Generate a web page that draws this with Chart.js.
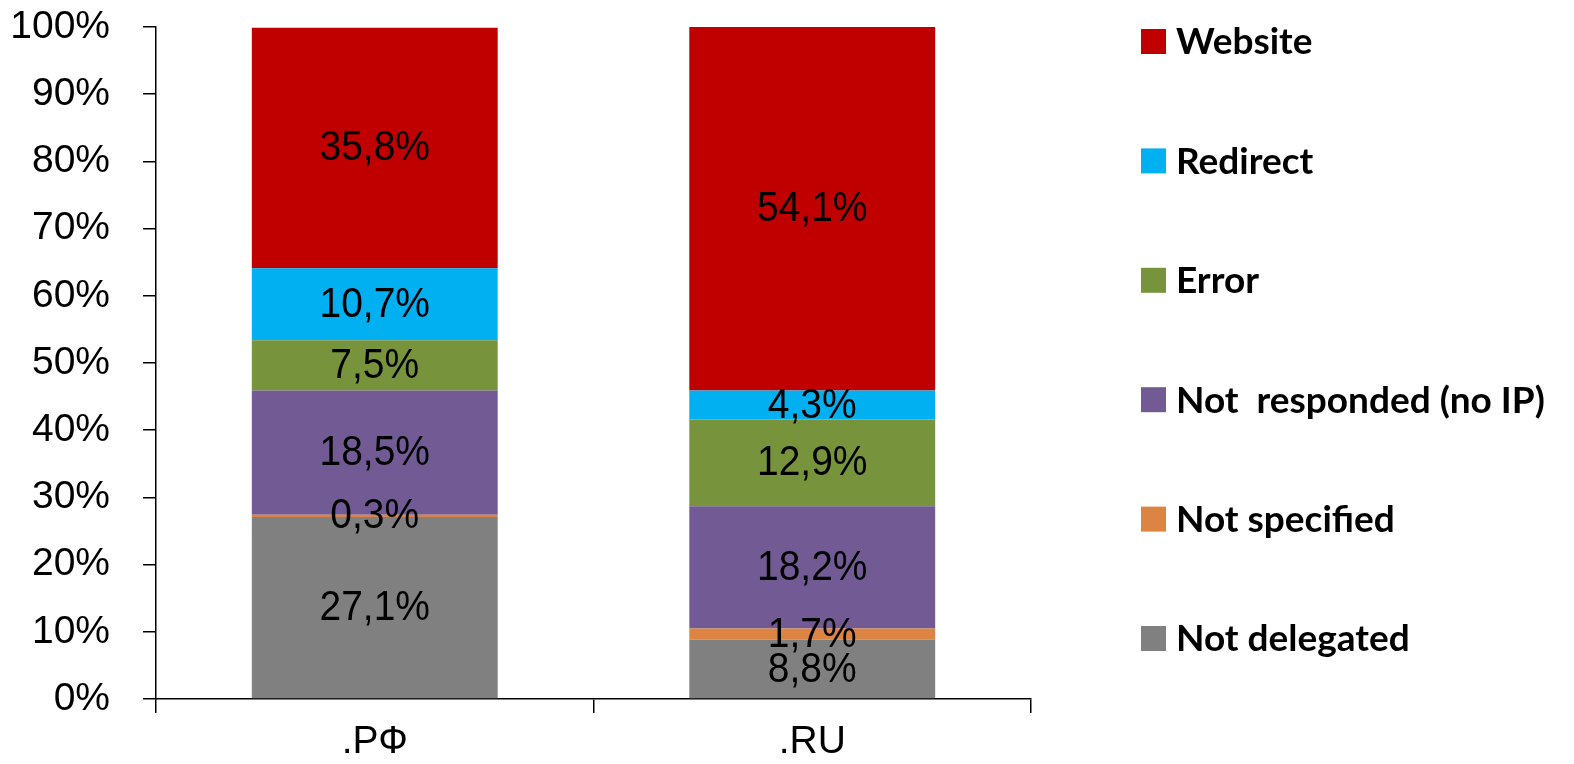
<!DOCTYPE html>
<html><head><meta charset="utf-8">
<script src="https://cdn.jsdelivr.net/npm/chart.js@4.4.0/dist/chart.umd.min.js"></script>
<style>html,body{margin:0;padding:0;background:#fff;overflow:hidden}#wrap{position:relative;width:1574px;height:764px}</style>
</head><body><div id="wrap"><canvas id="c" width="1574" height="764"></canvas></div>
<script>
const categories = ['.РФ', '.RU'];
const notDelegated = [27.1, 8.8];
const notSpecified = [0.3, 1.7];
const notResponded = [18.5, 18.2];
const errorVals = [7.5, 12.9];
const redirect = [10.7, 4.3];
const website = [35.8, 54.1];
const seriesNames = ['Not delegated', 'Not specified', 'Not  responded (no IP)', 'Error', 'Redirect', 'Website'];
const seriesColors = ['#808080', '#DE8443', '#725A94', '#77933C', '#00B0F0', '#C00000'];
const seriesValues = [notDelegated, notSpecified, notResponded, errorVals, redirect, website];
const yTickStep = 10;

const axisFont = '"Liberation Sans", Arial, sans-serif';

const dataLabels = {
  id: 'dataLabels',
  afterDatasetsDraw(chart) {
    const ctx = chart.ctx;
    chart.data.datasets.forEach((ds, i) => {
      const meta = chart.getDatasetMeta(i);
      meta.data.forEach((el, j) => {
        const v = ds.data[j];
        const y = (el.y + el.base) / 2 + 1;
        ctx.save();
        ctx.translate(el.x, y);
        ctx.scale(1, 1.07);
        ctx.font = '39px ' + axisFont;
        ctx.fillStyle = '#000';
        ctx.textAlign = 'center';
        ctx.textBaseline = 'middle';
        ctx.fillText(v.toFixed(1).replace('.', ',') + '%', 0, 0);
        ctx.restore();
      });
    });
  }
};

const sideLegend = {
  id: 'sideLegend',
  afterDraw(chart) {
    const ctx = chart.ctx;
    ctx.save();
    const items = chart.data.datasets.slice().reverse();
    items.forEach((ds, i) => {
      const cy = 41.5 + i * 119.4;
      ctx.fillStyle = ds.backgroundColor;
      ctx.fillRect(1141, cy - 12.5, 25, 25);
      ctx.fillStyle = '#000';
      ctx.font = 'bold 37px Lato, "Open Sans", sans-serif';
      ctx.textAlign = 'left';
      ctx.textBaseline = 'middle';
      ctx.fillText(ds.label, 1176, cy + 1);
    });
    ctx.restore();
  }
};

new Chart(document.getElementById('c'), {
  type: 'bar',
  data: {
    labels: categories,
    datasets: seriesNames.map((n, i) => ({
      label: n,
      data: seriesValues[i],
      backgroundColor: seriesColors[i],
      borderWidth: 0,
      categoryPercentage: 1,
      barPercentage: 0.562
    }))
  },
  options: {
    responsive: false,
    animation: false,
    layout: { padding: { left: 0, top: 27, right: 543, bottom: 0 } },
    plugins: { legend: { display: false }, tooltip: { enabled: false } },
    scales: {
      x: {
        stacked: true,
        grid: { drawOnChartArea: false, drawTicks: true, tickLength: 14, color: '#000', lineWidth: 1.5, offset: true },
        border: { color: '#000', width: 1.5 },
        ticks: { color: '#000', font: { family: axisFont, size: 39 }, padding: 6 },
        afterFit(s) { s.height = 65; s.paddingLeft = 0; s.paddingRight = 0; }
      },
      y: {
        stacked: true,
        min: 0, max: 100,
        grid: { drawOnChartArea: false, drawTicks: true, tickLength: 13, color: '#000', lineWidth: 1.5 },
        border: { color: '#000', width: 1.5 },
        ticks: { stepSize: yTickStep, color: '#000', font: { family: axisFont, size: 39 }, padding: 33, callback: v => v + '%' },
        afterFit(s) { s.width = 156; s.paddingTop = 0; s.paddingBottom = 0; }
      }
    }
  },
  plugins: [dataLabels, sideLegend]
});
</script></body></html>
